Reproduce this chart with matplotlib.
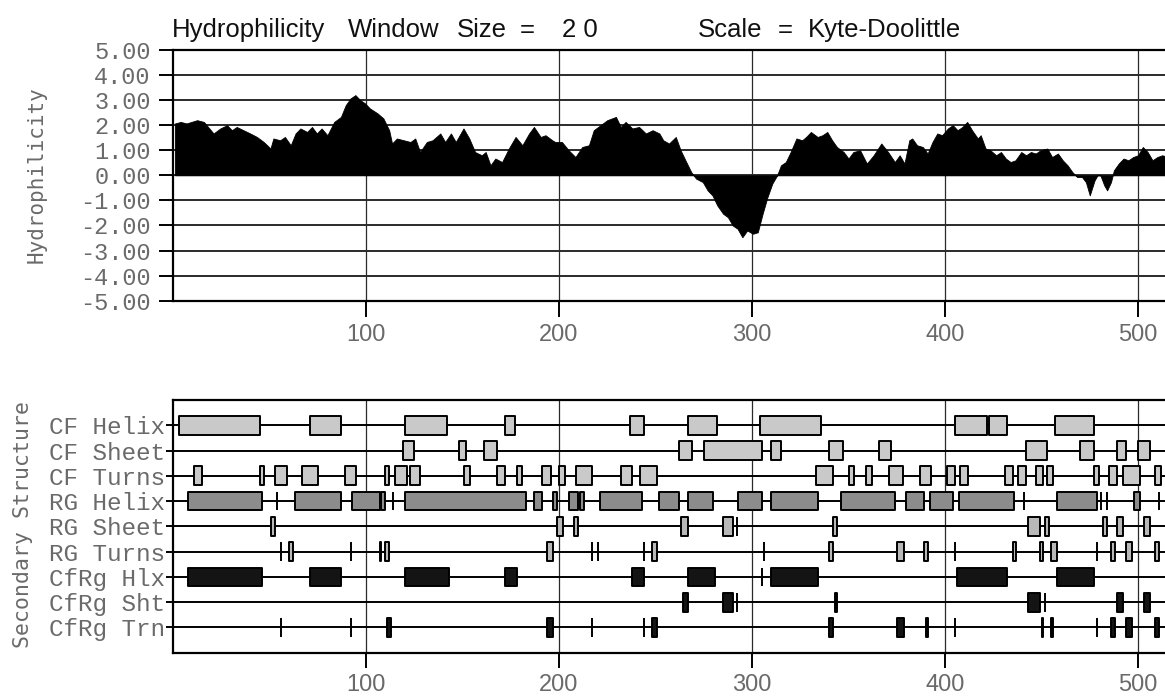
import matplotlib
matplotlib.use("Agg")
import matplotlib.pyplot as plt
from matplotlib.ticker import FormatStrFormatter

plt.rcParams['axes.unicode_minus'] = False

# hydrophilicity profile (residue, value)
hyd_pos = [1, 4, 7, 12.5, 16, 21, 24.5, 28, 30.5, 33, 36.5, 40, 43.5, 47, 50.5,
           52, 55.5, 58, 61, 63.5, 66, 69.5, 72, 74.5, 77, 80, 83.5, 87, 89.5, 92,
           94.5, 97, 99.5, 102, 106, 109, 112, 113.5, 116, 119.5, 123,
           125.5, 128, 131.5, 134.5, 138.5, 141, 144, 146.5, 150.5, 153.5, 156.5,
           160, 162, 164.5, 167, 170.5, 174, 177.5, 181, 184.5, 187, 190.5, 193,
           196.5, 198, 201.5, 205, 208.5, 212, 215.5, 218, 221.5, 225, 229.5, 232,
           234.5, 238, 241.5, 245, 248.5, 252,
           254, 257, 260.5, 263, 265.5, 268.5, 271, 274.5, 277, 279.5, 282, 285,
           287.5, 290, 292.5, 295, 297.5, 300.5, 303, 305.5, 308, 310.5, 313, 315,
           317.5, 320, 323, 326, 328, 330.5, 334, 336.5, 339, 341.5, 344, 347.5,
           350, 352.5, 356, 359.5, 363, 367, 370.5, 374, 376.5, 379, 381.5,
           383, 385.5, 388.5, 391, 393.5, 396, 398.5, 401.5, 404, 406.5, 409, 411.5,
           414, 417, 418.5, 421, 423.5, 426.5, 429, 431.5, 434, 436.5, 439.5, 442,
           444.5, 447, 449.5, 453, 455.5, 458.5, 461, 463.5, 466, 468.5, 471, 473,
           475, 477.5, 479, 480.5, 482.5, 484, 486, 487.5, 490, 492.5, 495, 497.5,
           500, 502.5, 505, 507.5, 510, 512.5, 516]
hyd_val = [2.07, 2.13, 2.07, 2.2, 2.13, 1.67, 1.87, 2.0, 1.8, 1.93, 1.8, 1.67, 1.53, 1.33, 1.07,
           1.47, 1.4, 1.53, 1.2, 1.67, 1.87, 1.73, 1.93, 1.67, 1.87, 1.6, 2.13, 2.33, 2.8, 3.07,
           3.2, 3.0, 2.87, 2.67, 2.47, 2.27, 1.8, 1.27, 1.47, 1.4, 1.33,
           1.47, 0.93, 1.33, 1.4, 1.67, 1.33, 1.67, 1.33, 1.87, 1.47, 0.93,
           0.8, 0.93, 0.4, 0.67, 0.53, 1.07, 1.53, 1.2, 1.67, 1.93, 1.53, 1.6,
           1.4, 1.33, 1.33, 1.0, 0.73, 1.13, 1.2, 1.8, 2.0, 2.2, 2.33, 1.93,
           2.13, 1.87, 1.93, 1.67, 1.8, 1.67,
           1.4, 1.27, 1.53, 1.0, 0.6, 0.13, -0.13, -0.27, -0.6, -0.8, -1.2, -1.53,
           -1.67, -2.0, -2.13, -2.47, -2.2, -2.33, -2.27, -1.53, -0.87, -0.33, 0.0, 0.4,
           0.53, 0.93, 1.47, 1.4, 1.53, 1.73, 1.53, 1.6, 1.73, 1.4, 1.13, 0.93,
           0.67, 0.93, 1.0, 0.47, 0.8, 1.27, 0.93, 0.53, 0.8, 0.47, 1.4,
           1.47, 1.2, 1.13, 0.87, 1.33, 1.67, 1.6, 1.87, 2.0, 1.8, 1.93, 2.13,
           1.8, 1.47, 1.6, 1.07, 1.0, 0.8, 0.93, 0.67, 0.53, 0.6, 0.93, 0.8,
           0.93, 0.87, 1.0, 1.07, 0.73, 0.87, 0.6, 0.4, 0.13, -0.07, -0.07, -0.27,
           -0.8, -0.2, 0.0, 0.0, -0.4, -0.6, -0.27, 0.2, 0.47, 0.67, 0.6, 0.73,
           0.8, 1.13, 0.93, 0.6, 0.73, 0.8, 0.73]

# secondary structure tracks, (start, end) residue spans; start == end is a single residue
track_names = ['CF Helix', 'CF Sheet', 'CF Turns', 'RG Helix', 'RG Sheet',
               'RG Turns', 'CfRg Hlx', 'CfRg Sht', 'CfRg Trn']
cf_helix = [(3, 45), (71, 87), (120, 142), (172, 177), (237, 244), (267, 282),
            (304, 336), (405, 422), (423, 432), (457, 477)]
cf_sheet = [(119, 125), (148, 152), (161, 168), (262, 269), (275, 305), (310, 315),
            (340, 347), (366, 372), (442, 453), (470, 477), (489, 494), (500, 506)]
cf_turns = [(11, 15), (45, 47), (53, 59), (67, 75), (89, 95), (110, 112), (115, 121),
            (123, 128), (151, 154), (168, 172), (178, 181), (191, 196), (200, 203),
            (209, 217), (232, 238), (242, 251), (333, 342), (350, 353), (359, 362),
            (371, 378), (387, 393), (401, 405), (408, 412), (431, 435), (438, 442),
            (447, 451), (453, 456), (477, 480), (485, 489), (492, 501), (509, 512)]
rg_helix = [(8, 46), (54, 54), (63, 87), (93, 107), (108, 110), (114, 114), (120, 183),
            (187, 191), (197, 199), (205, 210), (211, 213), (221, 243), (252, 262),
            (267, 280), (293, 305), (310, 334), (346, 374), (380, 389), (392, 404),
            (407, 436), (441, 441), (458, 479), (481, 481), (484, 484), (498, 501),
            (511, 511)]
rg_sheet = [(51, 53), (199, 202), (208, 210), (263, 267), (285, 290), (292, 292),
            (342, 344), (443, 449), (452, 454), (482, 484), (489, 492), (503, 506)]
rg_turns = [(56, 56), (60, 62), (92, 92), (107, 108), (110, 112), (194, 197), (217, 217),
            (220, 220), (244, 244), (248, 251), (306, 306), (340, 342), (375, 379),
            (389, 391), (405, 405), (435, 437), (449, 451), (455, 458), (479, 479),
            (486, 488), (494, 497), (509, 511)]
cfrg_hlx = [(8, 46), (71, 87), (120, 143), (172, 178), (238, 244), (267, 281),
            (305, 305), (310, 334), (406, 432), (458, 477)]
cfrg_sht = [(264, 267), (285, 290), (292, 292), (343, 344), (443, 449), (452, 452),
            (489, 492), (503, 506)]
cfrg_trn = [(56, 56), (92, 92), (111, 113), (194, 197), (217, 217), (244, 244),
            (248, 251), (340, 342), (375, 379), (390, 391), (405, 405), (450, 451),
            (455, 456), (479, 479), (486, 488), (494, 497), (509, 511)]
tracks = [cf_helix, cf_sheet, cf_turns, rg_helix, rg_sheet,
          rg_turns, cfrg_hlx, cfrg_sht, cfrg_trn]
track_colors = ['#c9c9c9', '#c9c9c9', '#c9c9c9', '#8c8c8c', '#b8b8b8',
                '#b8b8b8', '#141414', '#141414', '#141414']

x_ticks = [100, 200, 300, 400, 500]
y_ticks = [5, 4, 3, 2, 1, 0, -1, -2, -3, -4, -5]

TICK_GRAY = '#6a6a6a'
XMAX = 525

fig = plt.figure(figsize=(11.65, 6.98), dpi=100)

# ---- hydrophilicity plot
ax1 = fig.add_axes([0.1485, 0.5692, XMAX * 1.93 / 1165, 0.3592])
ax1.fill_between(hyd_pos, hyd_val, 0, color='black', linewidth=0.6, zorder=3)
ax1.set_xlim(0, XMAX)
ax1.set_ylim(-5, 5)
ax1.set_xticks(x_ticks)
ax1.set_yticks(y_ticks)
ax1.yaxis.set_major_formatter(FormatStrFormatter('%.2f'))
ax1.grid(axis='y', color='#2a2a2a', linewidth=1.4, zorder=1)
ax1.grid(axis='x', color='#2a2a2a', linewidth=0.9, zorder=1)
ax1.tick_params(axis='y', direction='out', length=10, width=1.4, pad=6,
                labelsize=17, labelcolor=TICK_GRAY)
ax1.tick_params(axis='x', direction='out', length=11.5, width=1.4, pad=5,
                labelsize=17, labelcolor=TICK_GRAY)
for lbl in ax1.get_yticklabels():
    lbl.set_fontfamily('Liberation Mono')
for lbl in ax1.get_xticklabels():
    lbl.set_fontfamily('Liberation Sans')
for s in ax1.spines.values():
    s.set_linewidth(1.6)

# ---- secondary structure plot
ax2 = fig.add_axes([0.1485, 0.0649, XMAX * 1.93 / 1165, 0.3620])
rows = list(range(len(track_names), 0, -1))
ax2.hlines(rows, 0, XMAX, color='black', linewidth=1.4, zorder=2)
box_h = 0.74
for row, spans, col in zip(rows, tracks, track_colors):
    ax2.broken_barh([(s, e - s) for s, e in spans], (row - box_h / 2, box_h),
                    facecolors=col, edgecolors='black', linewidth=1.4, zorder=3)
ax2.set_xlim(0, XMAX)
ax2.set_ylim(0, len(track_names) + 1)
ax2.set_xticks(x_ticks)
ax2.set_yticks(rows)
ax2.set_yticklabels(track_names)
ax2.grid(axis='x', color='#2a2a2a', linewidth=0.9, zorder=1)
ax2.tick_params(axis='y', direction='out', length=5, width=1.4, pad=0.5,
                labelsize=17.5, labelcolor=TICK_GRAY)
ax2.tick_params(axis='x', direction='out', length=10.5, width=1.4, pad=5,
                labelsize=17, labelcolor=TICK_GRAY)
for lbl in ax2.get_yticklabels():
    lbl.set_fontfamily('Liberation Mono')
for lbl in ax2.get_xticklabels():
    lbl.set_fontfamily('Liberation Sans')
for s in ax2.spines.values():
    s.set_linewidth(1.6)

# axis titles
fig.text(37 / 1165, 1 - 175 / 698, 'Hydrophilicity', rotation=90, ha='center',
         va='center', fontsize=15, color=TICK_GRAY, family='DejaVu Sans Mono')
fig.text(23 / 1165, 1 - 524 / 698, 'Secondary Structure', rotation=90, ha='center',
         va='center', fontsize=15.5, color=TICK_GRAY, family='DejaVu Sans Mono')

# header line
header = [('Hydrophilicity', 172), ('Window', 348), ('Size', 457), ('=', 520),
          ('2 0', 562), ('Scale', 698), ('=', 778), ('Kyte-Doolittle', 808)]
for word, px in header:
    fig.text(px / 1165, 1 - 37 / 698, word, ha='left', va='baseline',
             fontsize=18.5, color='#111111', family='Liberation Sans')

fig.savefig('out.png', dpi=100)
